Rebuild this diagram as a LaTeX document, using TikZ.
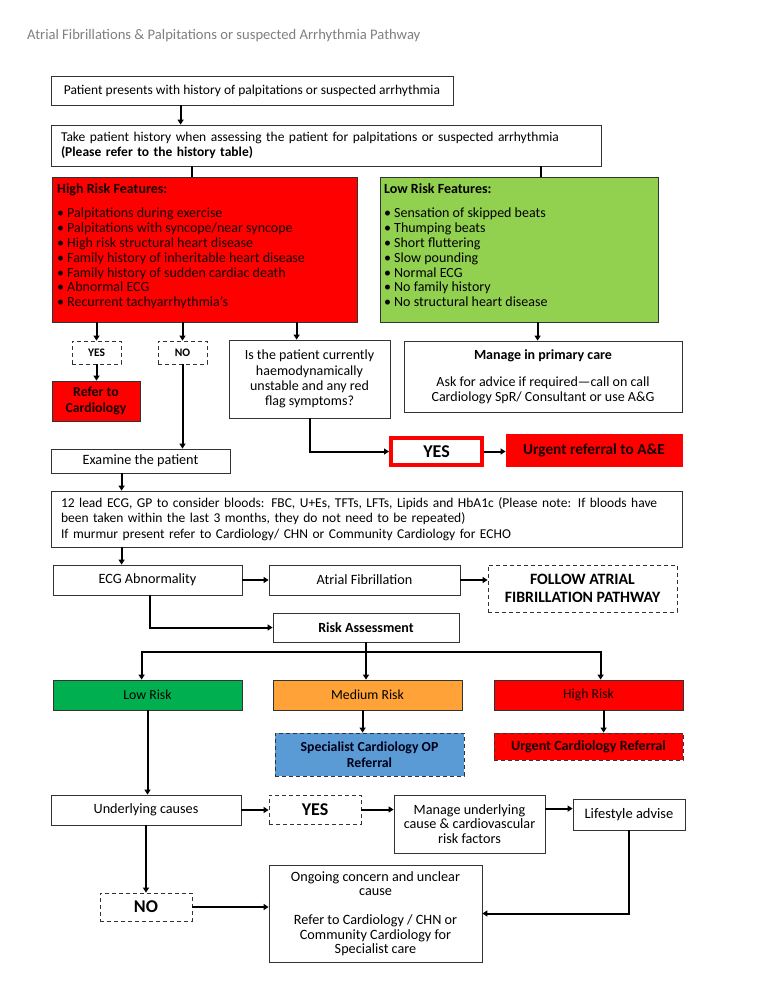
\documentclass[tikz,border=0pt]{standalone}
\usepackage{fontspec}
\setmainfont{Carlito}
\usetikzlibrary{positioning,calc,arrows.meta}
\definecolor{TitleGrey}{HTML}{7F7F7F}
\definecolor{HiRed}{HTML}{FF0000}
\definecolor{LoGreen}{HTML}{92D050}
\definecolor{RiskGreen}{HTML}{00B050}
\definecolor{RiskOrange}{HTML}{FFA237}
\definecolor{RiskBlue}{HTML}{5B9BD5}
\definecolor{DarkText}{HTML}{140000}
\def\BodyFont{\fontsize{13.5}{15.5}\selectfont}
\def\BoxFont{\fontsize{14.2}{15}\selectfont}
\def\ListFont{\fontsize{14}{14.8}\selectfont}
\def\Bul{\makebox[10pt][l]{\textbullet}}

\tikzset{
  pbox/.style={draw=black!80, line width=0.8pt, fill=white, inner sep=0pt, font=\BoxFont},
  dbox/.style={pbox, dash pattern=on 4pt off 3pt},
  flow/.style={line width=2pt, -{Triangle[length=5pt,width=6pt]}},
  link/.style={line width=2pt},
}

\begin{document}
\begin{tikzpicture}[x=1pt,y=-1pt]
\useasboundingbox (0,0) rectangle (760,997);
\node[anchor=west, text=TitleGrey, font=\fontsize{14.6}{16}\selectfont, inner sep=0pt] (title) at (27,36)
  {Atrial Fibrillations \& Palpitations or suspected Arrhythmia Pathway};
% history
\node[pbox, font=\BodyFont, minimum width=402pt, minimum height=29pt] (present) at (252,90.5)
  {Patient presents with history of palpitations or suspected arrhythmia};
\node[pbox, font=\BodyFont, minimum width=550pt, minimum height=41pt, text width=530pt, align=left] (history) at (326,145.5)
  {Take patient history when assessing the patient for palpitations or suspected arrhythmia\\
   \textbf{(Please refer to the history table)}};
% features
\node[pbox, fill=HiRed, minimum width=305pt, minimum height=145pt] (hirisk) at (204.5,249.5) {};
\node[anchor=north west, inner sep=0pt, align=left, font=\ListFont, text=DarkText] (hirisktxt) at (57,183)
  {\textbf{High Risk Features:}\\[10pt]
   \Bul Palpitations during exercise\\
   \Bul Palpitations with syncope/near syncope\\
   \Bul High risk structural heart disease\\
   \Bul Family history of inheritable heart disease\\
   \Bul Family history of sudden cardiac death\\
   \Bul Abnormal ECG\\
   \Bul Recurrent tachyarrhythmia's};
\node[pbox, fill=LoGreen, minimum width=278pt, minimum height=145pt] (lorisk) at (519,249.5) {};
\node[anchor=north west, inner sep=0pt, align=left, font=\ListFont] (lorisktxt) at (384,183)
  {\textbf{Low Risk Features:}\\[10pt]
   \Bul Sensation of skipped beats\\
   \Bul Thumping beats\\
   \Bul Short fluttering\\
   \Bul Slow pounding\\
   \Bul Normal ECG\\
   \Bul No family history\\
   \Bul No structural heart disease};
% answers
\node[dbox, minimum width=49pt, minimum height=23pt, font=\fontsize{11.5}{13}\selectfont\bfseries] (yesA) at (96.5,352.5) {YES};
\node[dbox, minimum width=49pt, minimum height=23pt, font=\fontsize{11.5}{13}\selectfont\bfseries] (noA) at (182.5,352.5) {NO};
\node[pbox, fill=HiRed, text=DarkText, minimum width=88pt, minimum height=40pt, align=center,
  font=\fontsize{13.8}{15.5}\selectfont\bfseries] (referCard) at (96,401) {Refer to\\Cardiology};
\node[pbox, minimum width=161pt, minimum height=78pt, align=center, font=\fontsize{14}{15.3}\selectfont] (question) at (309.5,379)
  {Is the patient currently\\haemodynamically\\unstable and any red\\flag symptoms?};
\node[pbox, minimum width=278pt, minimum height=71pt, align=center, font=\fontsize{14}{15}\selectfont] (primary) at (543,376.5)
  {\textbf{Manage in primary care}\\[12pt]Ask for advice if required---call on call\\Cardiology SpR/ Consultant or use A\&G};
\node[pbox, draw=HiRed, line width=4pt, minimum width=91pt, minimum height=27pt,
  font=\fontsize{18}{20}\selectfont\bfseries] (yesB) at (436.5,451.5) {YES};
\node[pbox, draw=HiRed, fill=HiRed, text=DarkText, minimum width=176pt, minimum height=32pt,
  font=\fontsize{15.3}{17}\selectfont\bfseries] (urgentAE) at (594,450) {Urgent referral to A\&E};
% examination
\node[pbox, minimum width=179pt, minimum height=24pt] (examine) at (140.5,461) {Examine the patient};
\node[pbox, font=\BodyFont, minimum width=631pt, minimum height=56pt, text width=611pt, align=left] (ecg) at (366.5,519)
  {12 lead ECG, GP to consider bloods: FBC, U+Es, TFTs, LFTs, Lipids and HbA1c (Please note: If bloods have\\
   been taken within the last 3 months, they do not need to be repeated)\\
   If murmur present refer to Cardiology/ CHN or Community Cardiology for ECHO};
\node[pbox, minimum width=189pt, minimum height=30pt] (ecgAbn) at (147.5,580) {ECG Abnormality};
\node[pbox, minimum width=191pt, minimum height=30pt] (af) at (364.5,580) {Atrial Fibrillation};
\node[dbox, minimum width=189pt, minimum height=47pt, align=center, font=\fontsize{15.8}{18}\selectfont\bfseries] (followAF) at (582.5,588.5)
  {FOLLOW ATRIAL\\FIBRILLATION PATHWAY};
\node[pbox, minimum width=186pt, minimum height=29pt, font=\fontsize{14}{15}\selectfont\bfseries] (riskAss) at (366,627.5) {Risk Assessment};
% risk levels
\node[pbox, fill=RiskGreen, minimum width=189pt, minimum height=30pt, font=\fontsize{13.8}{15}\selectfont] (lowR) at (147.5,695) {Low Risk};
\node[pbox, fill=RiskOrange, minimum width=189pt, minimum height=30pt, font=\fontsize{13.8}{15}\selectfont] (medR) at (367.5,695) {Medium Risk};
\node[pbox, fill=HiRed, text=DarkText, minimum width=189pt, minimum height=30pt, font=\fontsize{13.8}{15}\selectfont] (highR) at (588.5,695) {High Risk};
\node[dbox, fill=RiskBlue, text=black!90!blue, minimum width=189pt, minimum height=43pt, align=center,
  font=\fontsize{13.8}{16.5}\selectfont\bfseries] (specialist) at (369.5,754.5) {Specialist Cardiology OP\\Referral};
\node[dbox, fill=HiRed, text=DarkText, minimum width=189pt, minimum height=27pt,
  font=\fontsize{14.1}{15}\selectfont\bfseries] (urgentCard) at (588.5,746.5) {Urgent Cardiology Referral};
% causes
\node[pbox, minimum width=190pt, minimum height=30pt] (underlying) at (146,810) {Underlying causes};
\node[dbox, minimum width=92pt, minimum height=29pt, font=\fontsize{18}{20}\selectfont\bfseries] (yesC) at (315,809.5) {YES};
\node[pbox, minimum width=151pt, minimum height=58pt, align=center, font=\fontsize{14.2}{14.5}\selectfont] (manage) at (469.5,824)
  {Manage underlying\\cause \& cardiovascular\\risk factors};
\node[pbox, minimum width=112pt, minimum height=31pt, font=\fontsize{14.5}{15}\selectfont] (lifestyle) at (629,814.5) {Lifestyle advise};
\node[dbox, minimum width=92pt, minimum height=28pt, font=\fontsize{18}{20}\selectfont\bfseries] (noC) at (146,907) {NO};
\node[pbox, minimum width=213pt, minimum height=97pt, align=center, font=\fontsize{14.2}{14.5}\selectfont] (ongoing) at (375.5,913.5)
  {Ongoing concern and unclear\\cause\\[14.5pt]Refer to Cardiology / CHN or\\Community Cardiology for\\Specialist care};
% connectors
\draw[flow] ([xshift=130pt]present.south west) -- ([xshift=130pt]history.north west);
\draw[link] ([xshift=141pt]history.south west) -- ([xshift=140pt]hirisk.north west);
\draw[link] ([xshift=490pt]history.south west) -- ([xshift=161pt]lorisk.north west);
\draw[flow] (yesA.north |- hirisk.south) -- (yesA.north);
\draw[flow] (noA.north |- hirisk.south) -- (noA.north);
\draw[flow] ([xshift=245pt]hirisk.south west) -- ([xshift=68pt]question.north west);
\draw[flow] (yesA.south) -- (yesA.south |- referCard.north);
\draw[flow] ([xshift=158pt]lorisk.south west) -- ([xshift=134pt]primary.north west);
\draw[flow] (noA.south) -- (noA.south |- examine.north);
\draw[flow] (question.south) |- (yesB.west);
\draw[flow] (yesB.east) -- (yesB.east -| urgentAE.west);
\draw[flow] ([xshift=71pt]examine.south west) -- ([xshift=71pt]ecg.north west);
\draw[flow] ([xshift=71pt]ecg.south west) -- ([xshift=69pt]ecgAbn.north west);
\draw[flow] (ecgAbn.east) -- (af.west);
\draw[flow] (af.east) -- (af.east -| followAF.west);
\draw[flow] ([xshift=97pt]ecgAbn.south west) |- (riskAss.west);
\coordinate (split) at (366,652);
\draw[flow] (riskAss.south) -- (riskAss.south |- medR.north);
\draw[flow] (split) -| ([xshift=89pt]lowR.north west);
\draw[flow] (split) -| ([xshift=107pt]highR.north west);
\draw[flow] ([xshift=90pt]medR.south west) -- ([xshift=88pt]specialist.north west);
\draw[flow] ([xshift=110pt]highR.south west) -- ([xshift=110pt]urgentCard.north west);
\draw[flow] (lowR.south) -- (lowR.south |- underlying.north);
\draw[flow] (underlying.east) -- (underlying.east -| yesC.west);
\draw[flow] (yesC.east) -- (yesC.east -| manage.west);
\coordinate (mgOut) at ($(manage.north east)+(0,14)$);
\draw[flow] (mgOut) -- (mgOut -| lifestyle.west);
\draw[flow] (lifestyle.south) |- (ongoing.east);
\draw[flow] (underlying.south) -- (noC.north);
\draw[flow] (noC.east) -- (noC.east -| ongoing.west);
\end{tikzpicture}
\end{document}
